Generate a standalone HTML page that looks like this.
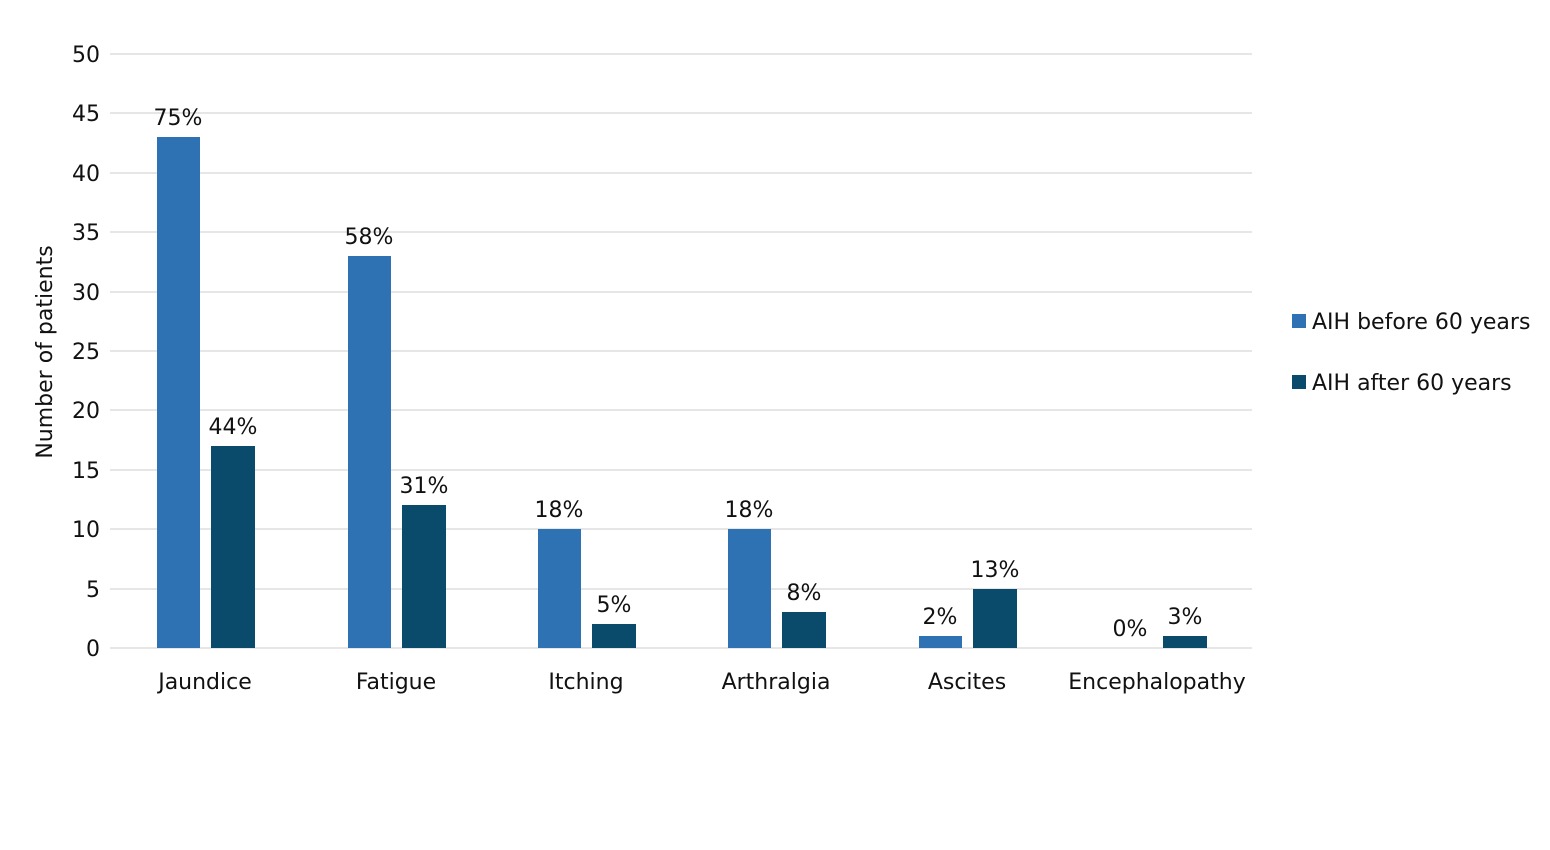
<!DOCTYPE html>
<html><head><meta charset="utf-8"><style>
html,body{margin:0;padding:0;background:#fff;}
svg{display:block;font-family:"DejaVu Sans","Liberation Sans",sans-serif;}
</style></head><body>
<svg width="1550" height="850" viewBox="0 0 1550 850" xmlns="http://www.w3.org/2000/svg">
<rect width="1550" height="850" fill="#fff"/>
<g stroke="#e6e6e6" stroke-width="2">
<line x1="110" x2="1252" y1="54" y2="54"/>
<line x1="110" x2="1252" y1="113" y2="113"/>
<line x1="110" x2="1252" y1="173" y2="173"/>
<line x1="110" x2="1252" y1="232" y2="232"/>
<line x1="110" x2="1252" y1="292" y2="292"/>
<line x1="110" x2="1252" y1="351" y2="351"/>
<line x1="110" x2="1252" y1="410" y2="410"/>
<line x1="110" x2="1252" y1="470" y2="470"/>
<line x1="110" x2="1252" y1="529" y2="529"/>
<line x1="110" x2="1252" y1="589" y2="589"/>
<line x1="110" x2="1252" y1="648" y2="648"/>
</g>
<g font-size="22" fill="#111" text-anchor="end">
<text x="100" y="62">50</text>
<text x="100" y="121">45</text>
<text x="100" y="181">40</text>
<text x="100" y="240">35</text>
<text x="100" y="300">30</text>
<text x="100" y="359">25</text>
<text x="100" y="418">20</text>
<text x="100" y="478">15</text>
<text x="100" y="537">10</text>
<text x="100" y="597">5</text>
<text x="100" y="656">0</text>
</g>
<text transform="translate(52,352) rotate(-90)" font-size="22" fill="#111" text-anchor="middle">Number of patients</text>
<g fill="#2E72B4">
<rect x="157" y="137" width="43" height="511"/>
<rect x="348" y="256" width="43" height="392"/>
<rect x="538" y="529" width="43" height="119"/>
<rect x="728" y="529" width="43" height="119"/>
<rect x="919" y="636" width="43" height="12"/>
</g>
<g fill="#0A4B6B">
<rect x="211" y="446" width="44" height="202"/>
<rect x="402" y="505" width="44" height="143"/>
<rect x="592" y="624" width="44" height="24"/>
<rect x="782" y="612" width="44" height="36"/>
<rect x="973" y="589" width="44" height="59"/>
<rect x="1163" y="636" width="44" height="12"/>
</g>
<g font-size="22" fill="#111" text-anchor="middle">
<text x="178" y="125">75%</text>
<text x="233" y="434">44%</text>
<text x="369" y="244">58%</text>
<text x="424" y="493">31%</text>
<text x="559" y="517">18%</text>
<text x="614" y="612">5%</text>
<text x="749" y="517">18%</text>
<text x="804" y="600">8%</text>
<text x="940" y="624">2%</text>
<text x="995" y="577">13%</text>
<text x="1130" y="636">0%</text>
<text x="1185" y="624">3%</text>
</g>
<g font-size="22" fill="#111" text-anchor="middle">
<text x="205" y="689">Jaundice</text>
<text x="396" y="689">Fatigue</text>
<text x="586" y="689">Itching</text>
<text x="776" y="689">Arthralgia</text>
<text x="967" y="689">Ascites</text>
<text x="1157" y="689">Encephalopathy</text>
</g>
<rect x="1292" y="314" width="14" height="14" fill="#2E72B4"/>
<rect x="1292" y="375" width="14" height="14" fill="#0A4B6B"/>
<g font-size="22" fill="#111">
<text x="1312" y="329">AIH before 60 years</text>
<text x="1312" y="390">AIH after 60 years</text>
</g>
</svg>
</body></html>
